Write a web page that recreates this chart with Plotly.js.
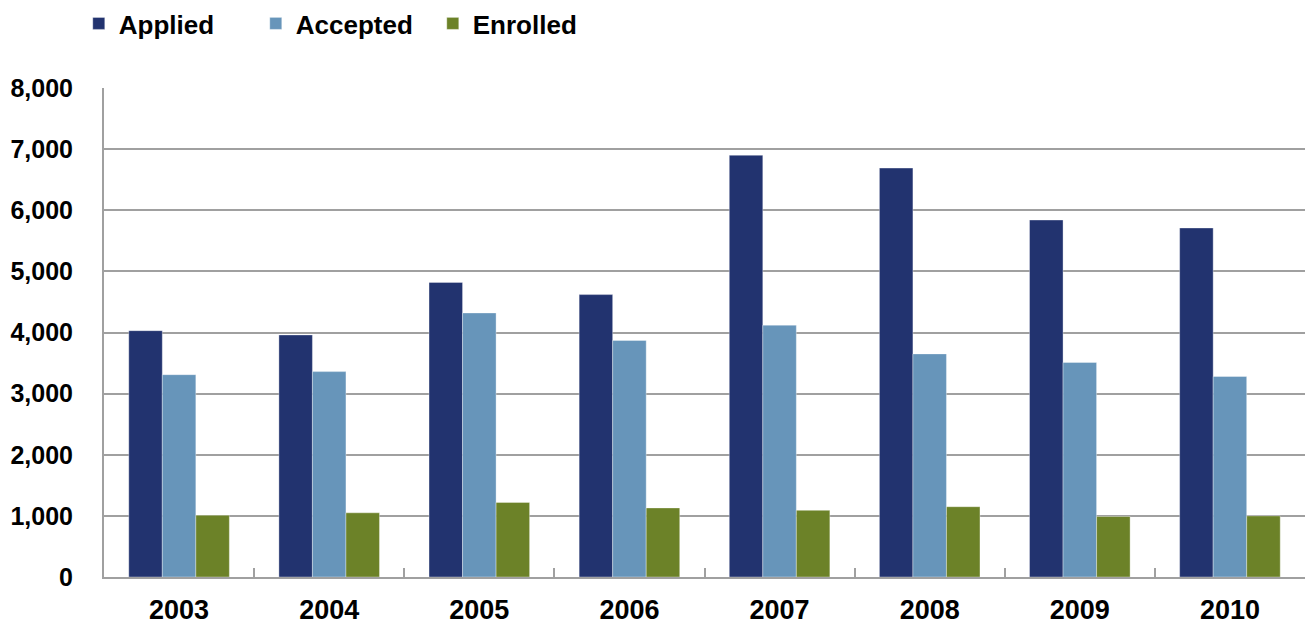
<!DOCTYPE html>
<html>
<head>
<meta charset="utf-8">
<script src="https://cdn.plot.ly/plotly-3.0.1.min.js"></script>
<style>html,body{margin:0;padding:0;background:#fff;}#chart{width:1312px;height:628px;}</style>
</head>
<body>
<div id="chart"></div>
<script>
const years = ['2003','2004','2005','2006','2007','2008','2009','2010'];
const applied  = [4030, 3960, 4820, 4620, 6900, 6690, 5840, 5710];
const accepted = [3310, 3360, 4320, 3870, 4120, 3650, 3510, 3280];
const enrolled = [1010, 1050, 1220, 1130, 1090, 1150, 990, 1000];
const seriesNames = ['Applied', 'Accepted', 'Enrolled'];
const seriesColors = ['#22336F', '#6795BA', '#6C8228'];
const yTicks = [0, 1000, 2000, 3000, 4000, 5000, 6000, 7000, 8000];

const font = 'Liberation Sans, Arial, sans-serif';
const data = [applied, accepted, enrolled].map((vals, i) => ({
  type: 'bar', x: years, y: vals, name: seriesNames[i],
  marker: {color: seriesColors[i], line: {color: 'rgba(255,255,255,0.35)', width: 1}},
  hoverinfo: 'x+y+name'
}));

const layout = {
  width: 1312, height: 628,
  margin: {l: 104, r: 7, t: 88, b: 51, pad: 0},
  paper_bgcolor: '#fff', plot_bgcolor: '#fff',
  barmode: 'group', bargap: 0.33, bargroupgap: 0,
  showlegend: true,
  legend: {orientation: 'h', x: -0.021, xanchor: 'left', y: 1.0, yref: 'container', yanchor: 'top',
    font: {family: font, size: 26, color: '#000', weight: 'bold'}, itemwidth: 30, traceorder: 'normal',
    entrywidth: 132, entrywidthmode: 'pixels'},
  xaxis: {
    type: 'category', showline: true, linecolor: '#A0A0A0', linewidth: 2,
    ticks: 'inside', tickson: 'boundaries', ticklen: 9, tickcolor: '#A0A0A0', tickwidth: 2,
    showgrid: false, ticklabelstandoff: 8,
    tickfont: {family: font, size: 27, color: '#000', weight: 'bold'}
  },
  yaxis: {
    range: [0, 8000], tickvals: yTicks, ticktext: yTicks.map(v => v.toLocaleString('en-US')),
    showline: true, linecolor: '#A0A0A0', linewidth: 2, ticks: '',
    showgrid: true, gridcolor: '#A0A0A0', gridwidth: 2, zeroline: false, ticklabelstandoff: 24,
    tickfont: {family: font, size: 25, color: '#000', weight: 'bold'}
  }
};
Plotly.newPlot('chart', data, layout, {displayModeBar: false, staticPlot: true});
</script>
</body>
</html>
